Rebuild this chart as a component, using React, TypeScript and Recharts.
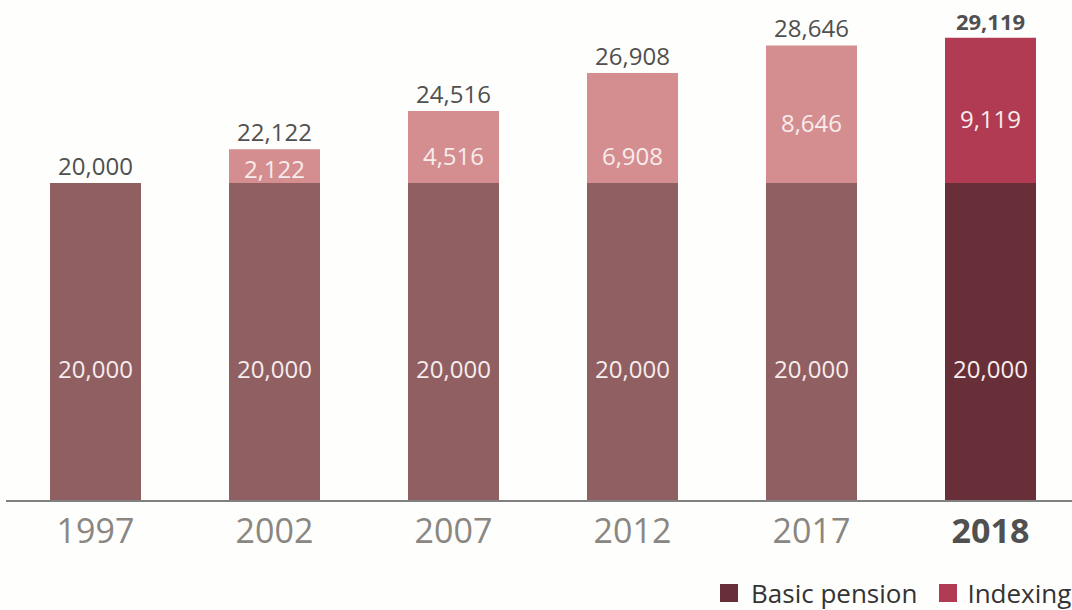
import React from "react";
import { BarChart, Bar, XAxis, YAxis, Cell, LabelList } from "recharts";

const years = ["1997", "2002", "2007", "2012", "2017", "2018"];
const basicPension = [20000, 20000, 20000, 20000, 20000, 20000];
const indexing = [0, 2122, 4516, 6908, 8646, 9119];
const highlightYear = "2018";

const basicColors = ["#8f5f62", "#8f5f62", "#8f5f62", "#8f5f62", "#8f5f62", "#692f38"];
const indexColors = ["#d58e90", "#d58e90", "#d58e90", "#d58e90", "#d58e90", "#b03b52"];

const data = years.map((y, i) => ({
  year: y,
  basic: basicPension[i],
  indexing: indexing[i],
  total: basicPension[i] + indexing[i],
}));

const FONT = "'Open Sans', 'Noto Sans', sans-serif";
const fmt = (v: number) => v.toLocaleString("en-US");

const Tick = (props: any) => {
  const { x, y, payload } = props;
  const bold = payload.value === highlightYear;
  return (
    <text
      x={x}
      y={y + 34}
      textAnchor="middle"
      fontFamily={FONT}
      fontSize={34}
      fontWeight={bold ? 700 : 400}
      fill={bold ? "#505050" : "#8a8682"}
    >
      {payload.value}
    </text>
  );
};

const BasicLabel = (props: any) => {
  const { x, y, width, height, value } = props;
  if (!value) return null;
  return (
    <text
      x={x + width / 2}
      y={y + height / 2 + 36}
      textAnchor="middle"
      fontFamily={FONT}
      fontSize={24}
      fill="#f7ecec"
    >
      {fmt(value)}
    </text>
  );
};

const IndexLabel = (props: any) => {
  const { x, y, width, height, value } = props;
  if (!value) return null;
  const base = y + height;
  const center = y + height / 2;
  const cy = height > 120 ? center + 10 : Math.max(center + 4, base - 26);
  return (
    <text
      x={x + width / 2}
      y={cy + 8}
      textAnchor="middle"
      fontFamily={FONT}
      fontSize={24}
      fill="#f7ecec"
    >
      {fmt(value)}
    </text>
  );
};

const TotalLabel = (props: any) => {
  const { x, y, width, height, index, value } = props;
  const perUnit = height / basicPension[index];
  const top = y - indexing[index] * perUnit;
  const bold = years[index] === highlightYear;
  return (
    <text
      x={x + width / 2}
      y={top - 8}
      textAnchor="middle"
      fontFamily={FONT}
      fontSize={bold ? 22 : 24}
      fontWeight={bold ? 700 : 400}
      fill="#505050"
    >
      {fmt(value)}
    </text>
  );
};

export default function App() {
  return (
    <div
      style={{
        position: "absolute",
        left: 0,
        top: 0,
        width: 1072,
        height: 610,
        overflow: "hidden",
        background: "#fefefc",
      }}
    >
      <BarChart
        width={1100}
        height={610}
        data={data}
        margin={{ top: 0, right: 20, left: 6, bottom: 49 }}
      >
        <XAxis
          dataKey="year"
          height={60}
          tickLine={false}
          axisLine={{ stroke: "#808080", strokeWidth: 2 }}
          tick={<Tick />}
          interval={0}
        />
        <YAxis hide domain={[0, 31500]} />
        <Bar dataKey="basic" stackId="a" barSize={91} isAnimationActive={false}>
          {data.map((d, i) => (
            <Cell key={d.year} fill={basicColors[i]} />
          ))}
          <LabelList dataKey="basic" content={<BasicLabel />} />
          <LabelList dataKey="total" content={<TotalLabel />} />
        </Bar>
        <Bar dataKey="indexing" stackId="a" barSize={91} isAnimationActive={false}>
          {data.map((d, i) => (
            <Cell key={d.year} fill={indexColors[i]} />
          ))}
          <LabelList dataKey="indexing" content={<IndexLabel />} />
        </Bar>
      </BarChart>
      <div
        style={{
          position: "absolute",
          left: 720,
          top: 575,
          display: "flex",
          alignItems: "center",
          whiteSpace: "nowrap",
          fontFamily: FONT,
          fontSize: 26,
          color: "#333333",
        }}
      >
        <span style={{ display: "inline-block", width: 18, height: 18, background: basicColors[5], marginRight: 13 }} />
        <span style={{ marginRight: 22 }}>Basic pension</span>
        <span style={{ display: "inline-block", width: 18, height: 18, background: indexColors[5], marginRight: 10 }} />
        <span>Indexing</span>
      </div>
    </div>
  );
}
